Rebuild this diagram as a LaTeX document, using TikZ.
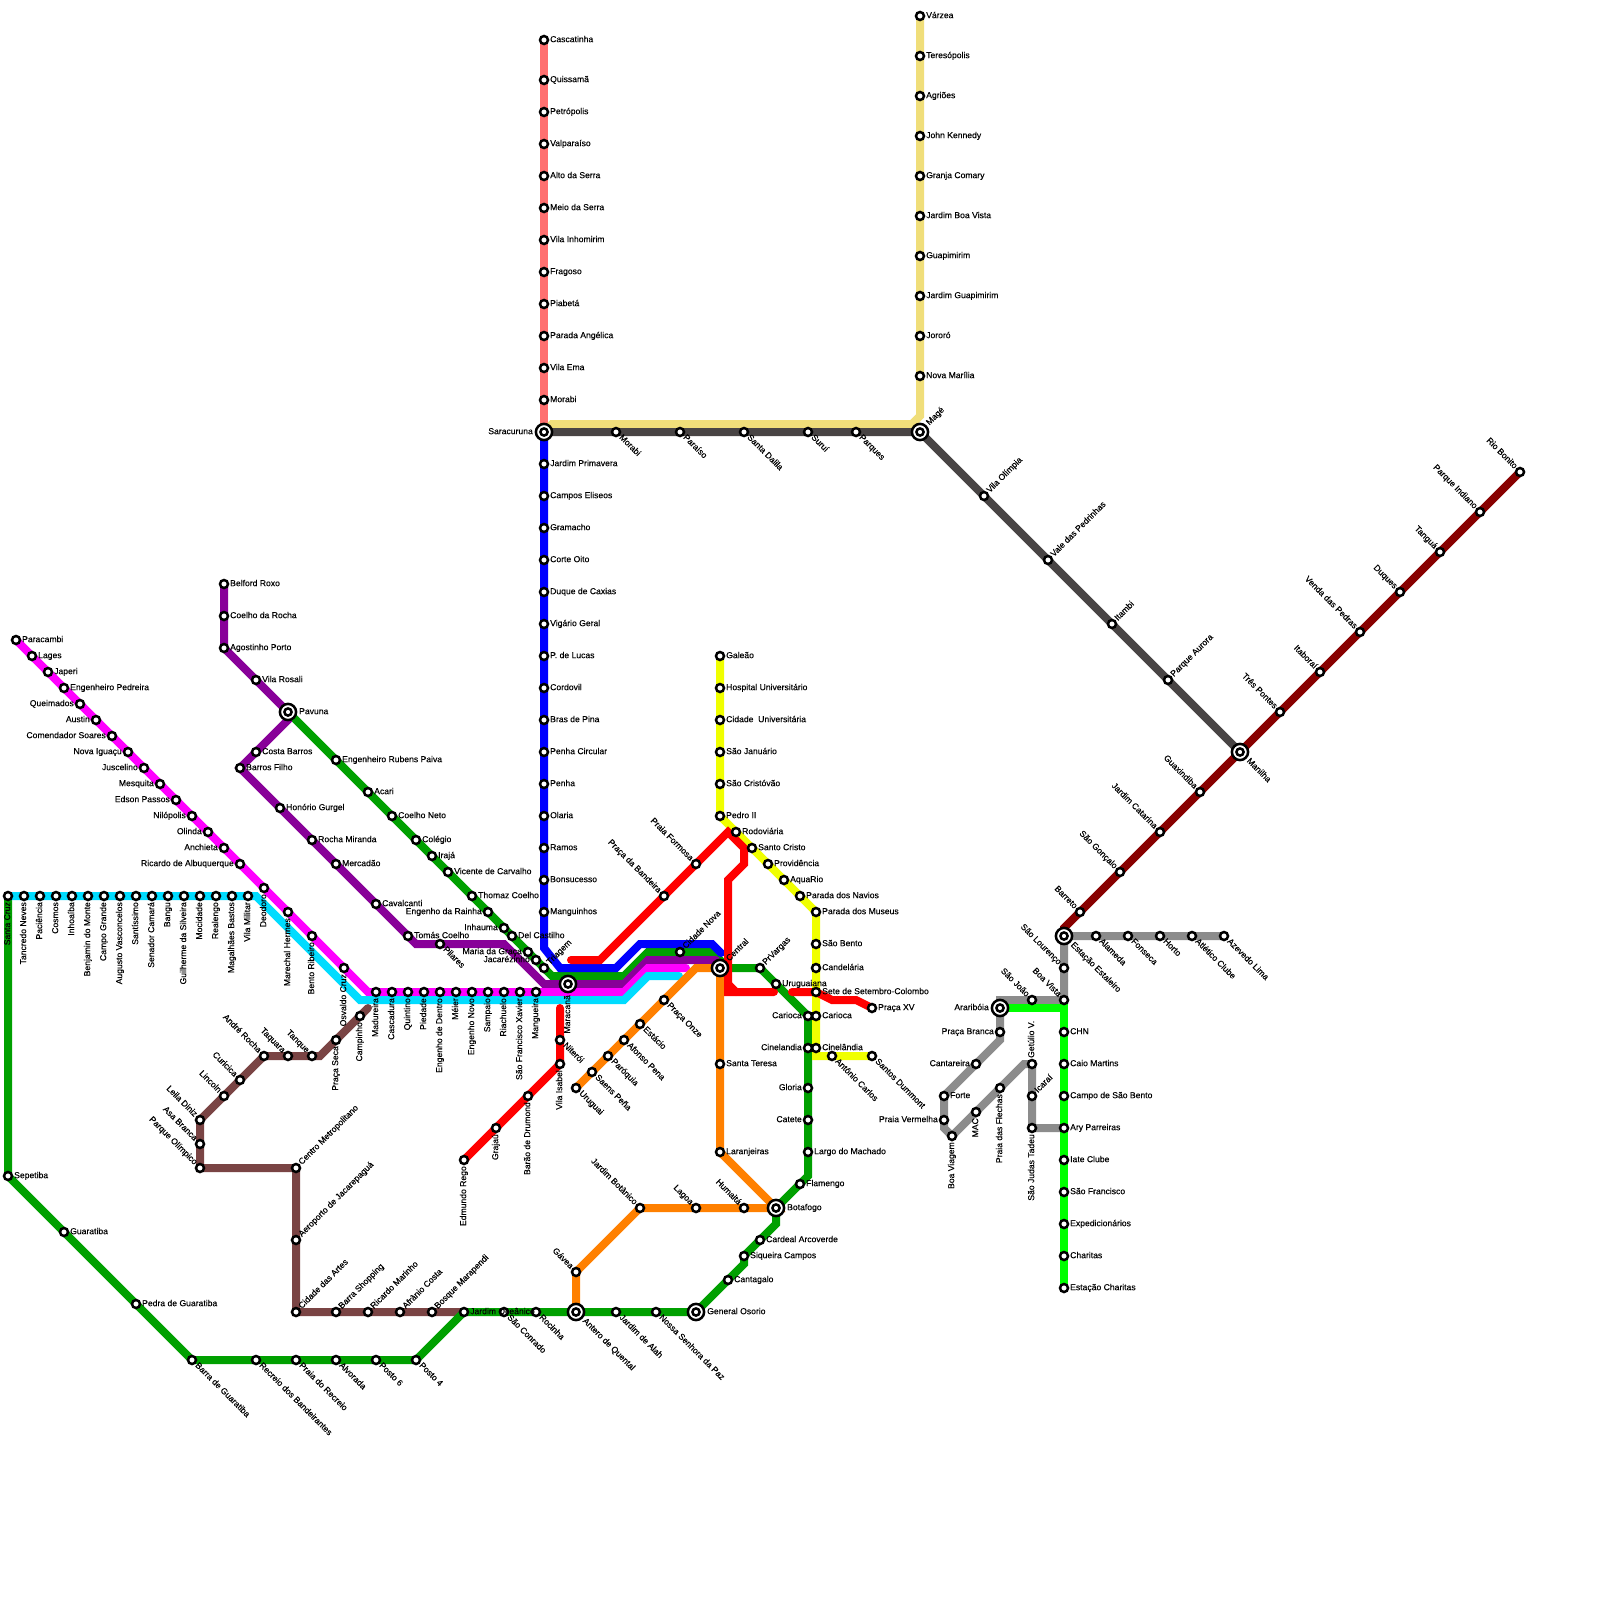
\documentclass[tikz,border=0pt]{standalone}
\usepackage{fontspec}
\setmainfont{Liberation Sans}[FakeBold=0.25]
\pgfdeclarelayer{bg}
\pgfsetlayers{bg,main}
\definecolor{cGreen}{RGB}{0,160,0}
\definecolor{cBlue}{RGB}{0,0,255}
\definecolor{cMag}{RGB}{255,0,255}
\definecolor{cCyan}{RGB}{0,220,255}
\definecolor{cPurp}{RGB}{136,0,153}
\definecolor{cOrange}{RGB}{255,128,0}
\definecolor{cRed}{RGB}{255,0,0}
\definecolor{cYellow}{RGB}{240,255,0}
\definecolor{cBrown}{RGB}{122,68,68}
\definecolor{cSalmon}{RGB}{255,112,112}
\definecolor{cKhaki}{RGB}{240,222,122}
\definecolor{cDark}{RGB}{72,68,68}
\definecolor{cDRed}{RGB}{136,0,0}
\definecolor{cGray}{RGB}{140,140,140}
\definecolor{cLime}{RGB}{0,255,0}
\tikzset{
  x=1pt,y=-1pt,
  stn/.style={circle,draw=black,fill=white,line width=2.5pt,minimum size=8pt,inner sep=0pt},
  hubo/.style={circle,draw=black,fill=white,line width=2.5pt,minimum size=16.2pt,inner sep=0pt},
  hubi/.style={circle,draw=black,fill=white,line width=2.5pt,minimum size=7.2pt,inner sep=0pt},
  lbl/.style={inner sep=0pt,text=black,text height=6pt,text depth=1.7pt,font=\fontsize{8.6pt}{9pt}\selectfont},
  dR/.style={anchor=west,xshift=\lo},
  dL/.style={anchor=east,xshift=-\lo},
  dB/.style={rotate=90,anchor=east,xshift=-\lo},
  dT/.style={rotate=90,anchor=west,xshift=\lo},
  dSE/.style={rotate=-45,anchor=west,xshift=\lo},
  dNE/.style={rotate=45,anchor=west,xshift=\lo},
  dNW/.style={rotate=-45,anchor=east,xshift=-\lo},
  lnk/.style={line width=8pt,line cap=round,line join=miter,miter limit=4}
}
\newcommand\st[5]{\def\lo{6pt}\node[stn] (#1) at (#2,#3) {};\node[lbl,#4] (#1-t) at (#2,#3) {#5};}
\newcommand\hb[5]{\def\lo{11pt}\node[hubo] (#1) at (#2,#3) {};\node[hubi] (#1-c) at (#2,#3) {};\node[lbl,#4] (#1-t) at (#2,#3) {#5};}
\newcommand\metro[3]{\draw[lnk,draw=#1] (#2.center) foreach \n in {#3} { -- (\n.center) };}
\begin{document}
\begin{tikzpicture}
\useasboundingbox (0,0) rectangle (1600,1600);
% ---- hubs
\hb{sara}{544}{432}{dL}{Saracuruna}
\hb{mage}{920}{432}{dNE}{Magé}
\hb{pav}{288}{712}{dR}{Pavuna}
\hb{mara}{568}{984}{dB}{Maracanã}
\hb{cent}{720}{968}{dNE}{Central}
\hb{bota}{776}{1208}{dR}{Botafogo}
\hb{ante}{576}{1312}{dSE}{Antero de Quental}
\hb{gene}{696}{1312}{dR}{General Osorio}
\hb{mani}{1240}{752}{dSE}{Manilha}
\hb{esta}{1064}{936}{dSE}{Estação Estaleiro}
\hb{arar}{1000}{1008}{dL}{Araribóia}
% ---- salmon
\st{casc}{544}{40}{dR}{Cascatinha}
\st{quis}{544}{80}{dR}{Quissamã}
\st{petr}{544}{112}{dR}{Petrópolis}
\st{valp}{544}{144}{dR}{Valparaíso}
\st{alto}{544}{176}{dR}{Alto da Serra}
\st{meio}{544}{208}{dR}{Meio da Serra}
\st{vinh}{544}{240}{dR}{Vila Inhomirim}
\st{frag}{544}{272}{dR}{Fragoso}
\st{piab}{544}{304}{dR}{Piabetá}
\st{pang}{544}{336}{dR}{Parada Angélica}
\st{vema}{544}{368}{dR}{Vila Ema}
\st{mora}{544}{400}{dR}{Morabi}
% ---- blue
\st{jpri}{544}{464}{dR}{Jardim Primavera}
\st{celi}{544}{496}{dR}{Campos Eliseos}
\st{gram}{544}{528}{dR}{Gramacho}
\st{cort}{544}{560}{dR}{Corte Oito}
\st{duqc}{544}{592}{dR}{Duque de Caxias}
\st{vige}{544}{624}{dR}{Vigário Geral}
\st{pluc}{544}{656}{dR}{P. de Lucas}
\st{cord}{544}{688}{dR}{Cordovil}
\st{brap}{544}{720}{dR}{Bras de Pina}
\st{pcir}{544}{752}{dR}{Penha Circular}
\st{penh}{544}{784}{dR}{Penha}
\st{olar}{544}{816}{dR}{Olaria}
\st{ramo}{544}{848}{dR}{Ramos}
\st{bons}{544}{880}{dR}{Bonsucesso}
\st{mang}{544}{912}{dR}{Manguinhos}
% ---- khaki
\st{varz}{920}{16}{dR}{Várzea}
\st{tere}{920}{56}{dR}{Teresópolis}
\st{agri}{920}{96}{dR}{Agriões}
\st{john}{920}{136}{dR}{John Kennedy}
\st{gran}{920}{176}{dR}{Granja Comary}
\st{jboa}{920}{216}{dR}{Jardim Boa Vista}
\st{guap}{920}{256}{dR}{Guapimirim}
\st{jgua}{920}{296}{dR}{Jardim Guapimirim}
\st{joro}{920}{336}{dR}{Jororó}
\st{nmar}{920}{376}{dR}{Nova Marília}
% ---- dark gray
\st{morb}{616}{432}{dSE}{Morabi}
\st{para}{680}{432}{dSE}{Paraíso}
\st{sdal}{744}{432}{dSE}{Santa Dalila}
\st{suru}{808}{432}{dSE}{Suruí}
\st{parq}{856}{432}{dSE}{Parques}
\st{voli}{984}{496}{dNE}{Vila Olímpia}
\st{vped}{1048}{560}{dNE}{Vale das Pedrinhas}
\st{itam}{1112}{624}{dNE}{Itambi}
\st{paur}{1168}{680}{dNE}{Parque Aurora}
% ---- dark red
\st{barr}{1080}{912}{dNW}{Barreto}
\st{sgon}{1120}{872}{dNW}{São Gonçalo}
\st{jcat}{1160}{832}{dNW}{Jardim Catarina}
\st{guax}{1200}{792}{dNW}{Guaxindiba}
\st{trep}{1280}{712}{dNW}{Três Pontes}
\st{itab}{1320}{672}{dNW}{Itaboraí}
\st{vend}{1360}{632}{dNW}{Venda das Pedras}
\st{duqs}{1400}{592}{dNW}{Duques}
\st{tang}{1440}{552}{dNW}{Tanguá}
\st{pind}{1480}{512}{dNW}{Parque Indiano}
\st{rbon}{1520}{472}{dNW}{Rio Bonito}
% ---- gray
\st{alam}{1096}{936}{dSE}{Alameda}
\st{fons}{1128}{936}{dSE}{Fonseca}
\st{hort}{1160}{936}{dSE}{Horto}
\st{atle}{1192}{936}{dSE}{Atlético Clube}
\st{azev}{1224}{936}{dSE}{Azevedo Lima}
\st{slou}{1064}{968}{dNW}{São Lourenço}
\st{bvis}{1064}{1000}{dNW}{Boa Vista}
\st{sjoa}{1032}{1000}{dNW}{São João}
\st{pbra}{1000}{1032}{dL}{Praça Branca}
\st{cant}{976}{1064}{dL}{Cantareira}
\st{fort}{944}{1096}{dR}{Forte}
\st{pver}{944}{1120}{dL}{Praia Vermelha}
\st{bvia}{952}{1136}{dB}{Boa Viagem}
\st{mac}{976}{1112}{dB}{MAC}
\st{pfle}{1000}{1088}{dB}{Praia das Flechas}
\st{getu}{1032}{1064}{dT}{Getúlio V.}
\st{icar}{1032}{1096}{dNE}{Icaraí}
\st{juda}{1032}{1128}{dB}{São Judas Tadeu}
% ---- lime
\st{chn}{1064}{1032}{dR}{CHN}
\st{caio}{1064}{1064}{dR}{Caio Martins}
\st{csbe}{1064}{1096}{dR}{Campo de São Bento}
\st{aryp}{1064}{1128}{dR}{Ary Parreiras}
\st{iate}{1064}{1160}{dR}{Iate Clube}
\st{sfra}{1064}{1192}{dR}{São Francisco}
\st{expe}{1064}{1224}{dR}{Expedicionários}
\st{char}{1064}{1256}{dR}{Charitas}
\st{echa}{1064}{1288}{dR}{Estação Charitas}
% ---- yellow
\st{gale}{720}{656}{dR}{Galeão}
\st{hosp}{720}{688}{dR}{Hospital Universitário}
\st{cuni}{720}{720}{dR}{Cidade\ \ Universitária}
\st{sjan}{720}{752}{dR}{São Januário}
\st{scri}{720}{784}{dR}{São Cristóvão}
\st{pedr}{720}{816}{dR}{Pedro II}
\st{rodo}{736}{832}{dR}{Rodoviária}
\st{scrt}{752}{848}{dR}{Santo Cristo}
\st{prov}{768}{864}{dR}{Providência}
\st{aqua}{784}{880}{dR}{AquaRio}
\st{pnav}{800}{896}{dR}{Parada dos Navios}
\st{pmus}{816}{912}{dR}{Parada dos Museus}
\st{sben}{816}{944}{dR}{São Bento}
\st{cand}{816}{968}{dR}{Candelária}
\st{sete}{816}{992}{dR}{Sete de Setembro-Colombo}
\st{cary}{816}{1016}{dR}{Carioca}
\st{ciny}{816}{1048}{dR}{Cinelândia}
\st{acar}{832}{1056}{dSE}{Antônio Carlos}
\st{sdum}{872}{1056}{dSE}{Santos Dummont}
\st{pxv}{872}{1008}{dR}{Praça XV}
% ---- orange
\st{urug}{576}{1088}{dSE}{Uruguai}
\st{saen}{592}{1072}{dSE}{Saens Peña}
\st{paro}{608}{1056}{dSE}{Paróquia}
\st{afon}{624}{1040}{dSE}{Afonso Pena}
\st{esti}{640}{1024}{dSE}{Estácio}
\st{ponz}{664}{1000}{dSE}{Praça Onze}
\st{stet}{720}{1064}{dR}{Santa Teresa}
\st{lara}{720}{1152}{dR}{Laranjeiras}
\st{huma}{744}{1208}{dNW}{Humaitá}
\st{lago}{696}{1208}{dNW}{Lagoa}
\st{jbot}{640}{1208}{dNW}{Jardim Botânico}
\st{gave}{576}{1272}{dNW}{Gávea}
% ---- red
\st{edmu}{464}{1160}{dB}{Edmundo Rego}
\st{graj}{496}{1128}{dB}{Grajaú}
\st{bdru}{528}{1096}{dB}{Barão de Drumond}
\st{viab}{560}{1064}{dB}{Vila Isabel}
\st{nite}{560}{1040}{dSE}{Niterói}
\st{pban}{664}{896}{dNW}{Praça da Bandeira}
\st{pfor}{696}{864}{dNW}{Praia Formosa}
% ---- green north
\st{erub}{336}{760}{dR}{Engenheiro Rubens Paiva}
\st{acri}{368}{792}{dR}{Acari}
\st{cnet}{392}{816}{dR}{Coelho Neto}
\st{cole}{416}{840}{dR}{Colégio}
\st{iraj}{432}{856}{dR}{Irajá}
\st{vcar}{448}{872}{dR}{Vicente de Carvalho}
\st{thom}{472}{896}{dR}{Thomaz Coelho}
\st{erai}{488}{912}{dL}{Engenho da Rainha}
\st{inha}{504}{928}{dL}{Inhauma}
\st{delc}{512}{936}{dR}{Del Castilho}
\st{mgra}{528}{952}{dL}{Maria da Graça}
\st{jaca}{536}{960}{dL}{Jacarézinho}
\st{tria}{544}{968}{dNE}{Triagem}
\st{cnov}{680}{952}{dNE}{Cidade Nova}
\st{pvar}{760}{968}{dNE}{PrVargas}
\st{urua}{776}{984}{dR}{Uruguaiana}
\st{carg}{808}{1016}{dL}{Carioca}
\st{cing}{808}{1048}{dL}{Cinelandia}
\st{glor}{808}{1088}{dL}{Gloria}
\st{cate}{808}{1120}{dL}{Catete}
\st{lmac}{808}{1152}{dR}{Largo do Machado}
\st{flam}{800}{1184}{dR}{Flamengo}
\st{card}{760}{1240}{dR}{Cardeal Arcoverde}
\st{siqu}{744}{1256}{dR}{Siqueira Campos}
\st{cgal}{728}{1280}{dR}{Cantagalo}
\st{nsra}{656}{1312}{dSE}{Nossa Senhora da Paz}
\st{jala}{616}{1312}{dSE}{Jardim de Alah}
\st{roci}{536}{1312}{dSE}{Rocinha}
\st{scon}{504}{1312}{dSE}{São Conrado}
\st{joce}{464}{1312}{dR}{Jardim Oceânico}
\st{pos4}{416}{1360}{dSE}{Posto 4}
\st{pos6}{376}{1360}{dSE}{Posto 6}
\st{alvo}{336}{1360}{dSE}{Alvorada}
\st{prec}{296}{1360}{dSE}{Praia do Recreio}
\st{rban}{256}{1360}{dSE}{Recreio dos Bandeirantes}
\st{bgua}{192}{1360}{dSE}{Barra de Guaratiba}
\st{pgua}{136}{1304}{dR}{Pedra de Guaratiba}
\st{guar}{64}{1232}{dR}{Guaratiba}
\st{sepe}{8}{1176}{dR}{Sepetiba}
% ---- purple
\st{belf}{224}{584}{dR}{Belford Roxo}
\st{croc}{224}{616}{dR}{Coelho da Rocha}
\st{agos}{224}{648}{dR}{Agostinho Porto}
\st{vros}{256}{680}{dR}{Vila Rosali}
\st{cbar}{256}{752}{dR}{Costa Barros}
\st{bfil}{240}{768}{dR}{Barros Filho}
\st{hgur}{280}{808}{dR}{Honório Gurgel}
\st{rmir}{312}{840}{dR}{Rocha Miranda}
\st{merc}{336}{864}{dR}{Mercadão}
\st{cava}{376}{904}{dR}{Cavalcanti}
\st{tcoe}{408}{936}{dR}{Tomás Coelho}
\st{pila}{440}{944}{dSE}{Pilares}
% ---- magenta
\st{parc}{16}{640}{dR}{Paracambi}
\st{lage}{32}{656}{dR}{Lages}
\st{jape}{48}{672}{dR}{Japeri}
\st{eped}{64}{688}{dR}{Engenheiro Pedreira}
\st{quei}{80}{704}{dL}{Queimados}
\st{aust}{96}{720}{dL}{Austin}
\st{csoa}{112}{736}{dL}{Comendador Soares}
\st{nigu}{128}{752}{dL}{Nova Iguaçu}
\st{jusc}{144}{768}{dL}{Juscelino}
\st{mesq}{160}{784}{dL}{Mesquita}
\st{edso}{176}{800}{dL}{Edson Passos}
\st{nilo}{192}{816}{dL}{Nilópolis}
\st{olin}{208}{832}{dL}{Olinda}
\st{anch}{224}{848}{dL}{Anchieta}
\st{rica}{240}{864}{dL}{Ricardo de Albuquerque}
\st{deod}{264}{888}{dB}{Deodoro}
\st{mher}{288}{912}{dB}{Marechal Hermes}
\st{bent}{312}{936}{dB}{Bento Ribeiro}
\st{oswa}{344}{968}{dB}{Osvaldo Cruz}
\st{madu}{376}{992}{dB}{Madureira}
\st{casd}{392}{992}{dB}{Cascadura}
\st{quin}{408}{992}{dB}{Quintino}
\st{pied}{424}{992}{dB}{Piedade}
\st{eden}{440}{992}{dB}{Engenho de Dentro}
\st{meie}{456}{992}{dB}{Méier}
\st{enov}{472}{992}{dB}{Engenho Novo}
\st{samp}{488}{992}{dB}{Sampaio}
\st{riac}{504}{992}{dB}{Riachuelo}
\st{sfxa}{520}{992}{dB}{São Francisco Xavier}
\st{mgue}{536}{992}{dB}{Mangueira}
% ---- cyan
\st{scru}{8}{896}{dB}{Santa Cruz}
\st{tanc}{24}{896}{dB}{Tancredo Neves}
\st{paci}{40}{896}{dB}{Paciência}
\st{cosm}{56}{896}{dB}{Cosmos}
\st{inho}{72}{896}{dB}{Inhoaíba}
\st{benj}{88}{896}{dB}{Benjamin do Monte}
\st{cgra}{104}{896}{dB}{Campo Grande}
\st{augu}{120}{896}{dB}{Augusto Vasconcelos}
\st{sant}{136}{896}{dB}{Santíssimo}
\st{sena}{152}{896}{dB}{Senador Camará}
\st{bang}{168}{896}{dB}{Bangu}
\st{guil}{184}{896}{dB}{Guilherme da Silveira}
\st{moci}{200}{896}{dB}{Mocidade}
\st{real}{216}{896}{dB}{Realengo}
\st{maga}{232}{896}{dB}{Magalhães Bastos}
\st{vmil}{248}{896}{dB}{Vila Militar}
% ---- brown
\st{camp}{360}{1016}{dB}{Campinho}
\st{pces}{336}{1040}{dB}{Praça Seca}
\st{tanq}{312}{1056}{dNW}{Tanque}
\st{taqu}{288}{1056}{dNW}{Taquara}
\st{andr}{264}{1056}{dNW}{André Rocha}
\st{curi}{240}{1080}{dNW}{Curicica}
\st{linc}{224}{1096}{dNW}{Lincoln}
\st{leil}{200}{1120}{dNW}{Leila Diniz}
\st{asab}{200}{1144}{dNW}{Asa Branca}
\st{polm}{200}{1168}{dNW}{Parque Olímpico}
\st{cmet}{296}{1168}{dNE}{Centro Metropolitano}
\st{aero}{296}{1240}{dNE}{Aeroporto de Jacarepaguá}
\st{cart}{296}{1312}{dNE}{Cidade das Artes}
\st{bsho}{336}{1312}{dNE}{Barra Shopping}
\st{rmar}{368}{1312}{dNE}{Ricardo Marinho}
\st{afra}{400}{1312}{dNE}{Afrânio Costa}
\st{bmar}{432}{1312}{dNE}{Bosque Marapendi}
% ---- way points
\coordinate (wMageK) at (920,416);
\coordinate (wMageL) at (912,424);
\coordinate (wSaraK) at (552,424);
\coordinate (wD1) at (1064,928);
\coordinate (wB1) at (544,948);
\coordinate (wB2) at (560,968);
\coordinate (wB3) at (616,968);
\coordinate (wB4) at (640,944);
\coordinate (wB5) at (712,944);
\coordinate (wB6) at (721,953);
\coordinate (wG1) at (552,976);
\coordinate (wG2) at (624,976);
\coordinate (wG3) at (648,952);
\coordinate (wG4) at (712,952);
\coordinate (wG5) at (720,960);
\coordinate (wG6) at (808,1176);
\coordinate (wG7) at (776,1224);
\coordinate (wG8) at (744,1264);
\coordinate (wP1) at (288,720);
\coordinate (wP2) at (416,944);
\coordinate (wP3) at (504,944);
\coordinate (wP4) at (544,984);
\coordinate (wP5) at (624,984);
\coordinate (wP6) at (648,960);
\coordinate (wP7) at (716,960);
\coordinate (wM1) at (368,992);
\coordinate (wM2) at (624,992);
\coordinate (wM3) at (648,968);
\coordinate (wM4) at (686,968);
\coordinate (wC1) at (256,896);
\coordinate (wC2) at (360,1000);
\coordinate (wC3) at (624,1000);
\coordinate (wC4) at (648,976);
\coordinate (wC5) at (679,976);
\coordinate (wO1) at (696,968);
\coordinate (wBr1) at (368,1008);
\coordinate (wBr2) at (320,1056);
\coordinate (wR1) at (560,1008);
\coordinate (wR2) at (571,960);
\coordinate (wR3) at (600,960);
\coordinate (wR4) at (728,832);
\coordinate (wR5) at (744,848);
\coordinate (wR6) at (744,864);
\coordinate (wR7) at (728,880);
\coordinate (wR8) at (728,992);
\coordinate (wR8a) at (728,984);
\coordinate (wR8b) at (736,992);
\coordinate (wR9) at (774,992);
\coordinate (wR10) at (792,992);
\coordinate (wR11) at (832,1000);
\coordinate (wR12) at (856,1000);
\coordinate (wY1) at (816,1056);
\coordinate (wGy1) at (1000,1000);
\coordinate (wGy2) at (1000,1040);
\coordinate (wGy3) at (944,1128);
\coordinate (wGy4) at (1024,1064);
\coordinate (wL1) at (1064,1008);
% ---- connectors
\begin{pgfonlayer}{bg}
\fill[white] (0,0) rectangle (1600,1600);
\metro{cSalmon}{casc}{quis,petr,valp,alto,meio,vinh,frag,piab,pang,vema,mora,sara}
\metro{cKhaki}{varz}{tere,agri,john,gran,jboa,guap,jgua,joro,nmar,wMageK,wMageL,wSaraK,sara}
\metro{cDark}{sara}{morb,para,sdal,suru,parq,mage,voli,vped,itam,paur,mani}
\metro{cDRed}{esta}{wD1,barr,sgon,jcat,guax,mani,trep,itab,vend,duqs,tang,pind,rbon}
\metro{cGray}{azev}{atle,hort,fons,alam,esta,slou,bvis,sjoa,wGy1,arar,pbra,wGy2,cant,fort,pver,wGy3,bvia,mac,pfle,wGy4,getu,icar,juda,aryp}
\metro{cLime}{arar}{wL1,chn,caio,csbe,aryp,iate,sfra,expe,char,echa}
\metro{cBrown}{wBr1}{camp,pces,wBr2,tanq,taqu,andr,curi,linc,leil,asab,polm,cmet,aero,cart,bsho,rmar,afra,bmar,joce}
\metro{cGreen}{pav}{erub,acri,cnet,cole,iraj,vcar,thom,erai,inha,delc,mgra,jaca,tria,wG1,wG2,wG3,cnov,wG4,wG5,cent,pvar,urua,carg,cing,glor,cate,lmac,wG6,flam,bota,wG7,card,siqu,wG8,cgal,gene,nsra,jala,ante,roci,scon,joce,pos4,pos6,alvo,prec,rban,bgua,pgua,guar,sepe,scru}
\metro{cPurp}{belf}{croc,agos,vros,pav,wP1,cbar,bfil,hgur,rmir,merc,cava,tcoe,wP2,pila,wP3,wP4,mara,wP5,wP6,wP7}
\metro{cMag}{parc}{lage,jape,eped,quei,aust,csoa,nigu,jusc,mesq,edso,nilo,olin,anch,rica,deod,mher,bent,oswa,wM1,madu,casd,quin,pied,eden,meie,enov,samp,riac,sfxa,mgue,wM2,wM3,wM4}
\metro{cCyan}{scru}{tanc,paci,cosm,inho,benj,cgra,augu,sant,sena,bang,guil,moci,real,maga,vmil,wC1,wC2,wC3,wC4,wC5}
\metro{cBlue}{sara}{jpri,celi,gram,cort,duqc,vige,pluc,cord,brap,pcir,penh,olar,ramo,bons,mang,wB1,wB2,wB3,wB4,wB5,wB6}
\metro{cOrange}{urug}{saen,paro,afon,esti,ponz,wO1,cent,stet,lara,bota,huma,lago,jbot,gave,ante}
\metro{cYellow}{gale}{hosp,cuni,sjan,scri,pedr,rodo,scrt,prov,aqua,pnav,pmus,sben,cand,sete,cary,ciny,wY1,acar,sdum}
\metro{cRed}{edmu}{graj,bdru,viab,nite,wR1}
\metro{cRed}{wR2}{wR3,pban,pfor,wR4,wR5,wR6,wR7,wR8,wR9}
\metro{cRed}{wR8a}{wR8b}
\metro{cRed}{wR10}{sete,wR11,wR12,pxv}
\end{pgfonlayer}
\end{tikzpicture}
\end{document}
